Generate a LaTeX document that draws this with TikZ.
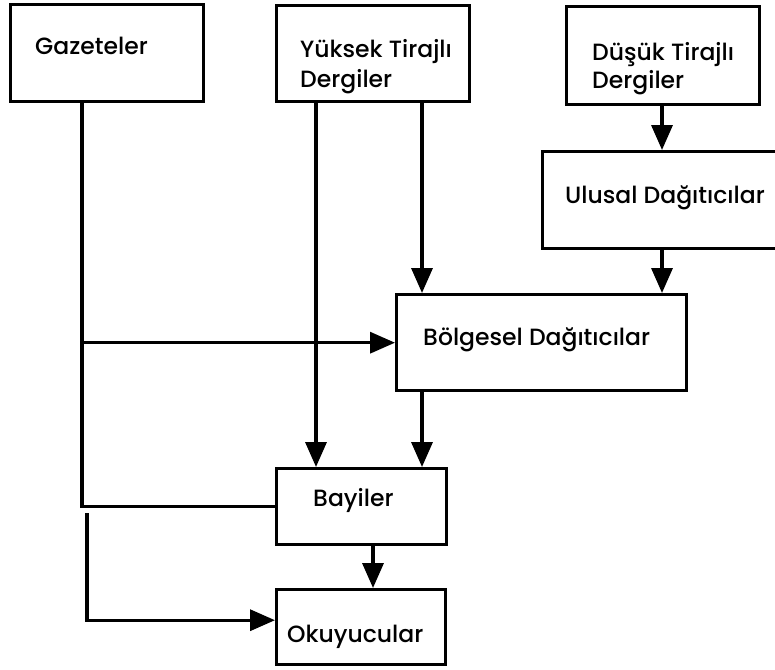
\documentclass[tikz,border=0pt]{standalone}
\usepackage{fontspec}
\setmainfont{Poppins}[UprightFont={* Medium}]
\usetikzlibrary{arrows.meta}
\begin{document}
\begin{tikzpicture}[x=1pt,y=-1pt,
  box/.style={draw, line width=3.4pt, rectangle, inner sep=0pt, anchor=north west},
  lbl/.style={anchor=base west, inner sep=0pt, font=\fontsize{23.5}{28}\selectfont},
  link/.style={line width=3.4pt},
  arrow/.style={link, -{Triangle[length=25pt,width=21pt]}}]
\useasboundingbox (0,0) rectangle (775,669);

% boxes
\node[box, minimum width=193pt, minimum height=97pt] (gaz) at (9,3) {};
\node[box, minimum width=193pt, minimum height=96pt] (yuk) at (275,4) {};
\node[box, minimum width=193pt, minimum height=98pt] (dus) at (565,5) {};
\node[box, minimum width=260pt, minimum height=97pt] (ulu) at (541,150) {};
\node[box, minimum width=290pt, minimum height=96pt] (bol) at (395,293) {};
\node[box, minimum width=170pt, minimum height=76pt] (bay) at (275,467) {};
\node[box, minimum width=169pt, minimum height=75pt] (oku) at (275,588) {};

% labels
\node[lbl] (tgaz) at (35,55) {Gazeteler};
\node[lbl] (tyuk1) at (300,57) {Yüksek Tirajlı};
\node[lbl] (tyuk2) at (300,87) {Dergiler};
\node[lbl] (tdus1) at (592,60) {Düşük Tirajlı};
\node[lbl] (tdus2) at (592,88) {Dergiler};
\node[lbl] (tulu) at (565,203) {Ulusal Dağıtıcılar};
\node[lbl] (tbol) at (423,345) {Bölgesel Dağıtıcılar};
\node[lbl] (tbay) at (313,506) {Bayiler};
\node[lbl] (toku) at (287,642) {Okuyucular};

% vertical guide positions of the connectors
\coordinate (gx) at (82,0);
\coordinate (ya) at (316,0);
\coordinate (yb) at (422,0);
\coordinate (dx) at (662,0);
\coordinate (bx) at (373,0);
\coordinate (ostart) at (87,513);

% connectors
\draw[link] (gx |- gaz.south) -- (gx |- bay.west) -- (bay.west);
\draw[arrow] (gx |- bol.west) -- (bol.west);
\draw[arrow] (ostart) |- ([yshift=7pt]oku.west);
\draw[arrow] (ya |- yuk.south) -- (ya |- bay.north);
\draw[arrow] (yb |- yuk.south) -- (yb |- bol.north);
\draw[arrow] (yb |- bol.south) -- (yb |- bay.north);
\draw[arrow] (dx |- dus.south) -- (dx |- ulu.north);
\draw[arrow] (dx |- ulu.south) -- (dx |- bol.north);
\draw[arrow] (bx |- bay.south) -- (bx |- oku.north);
\end{tikzpicture}
\end{document}
